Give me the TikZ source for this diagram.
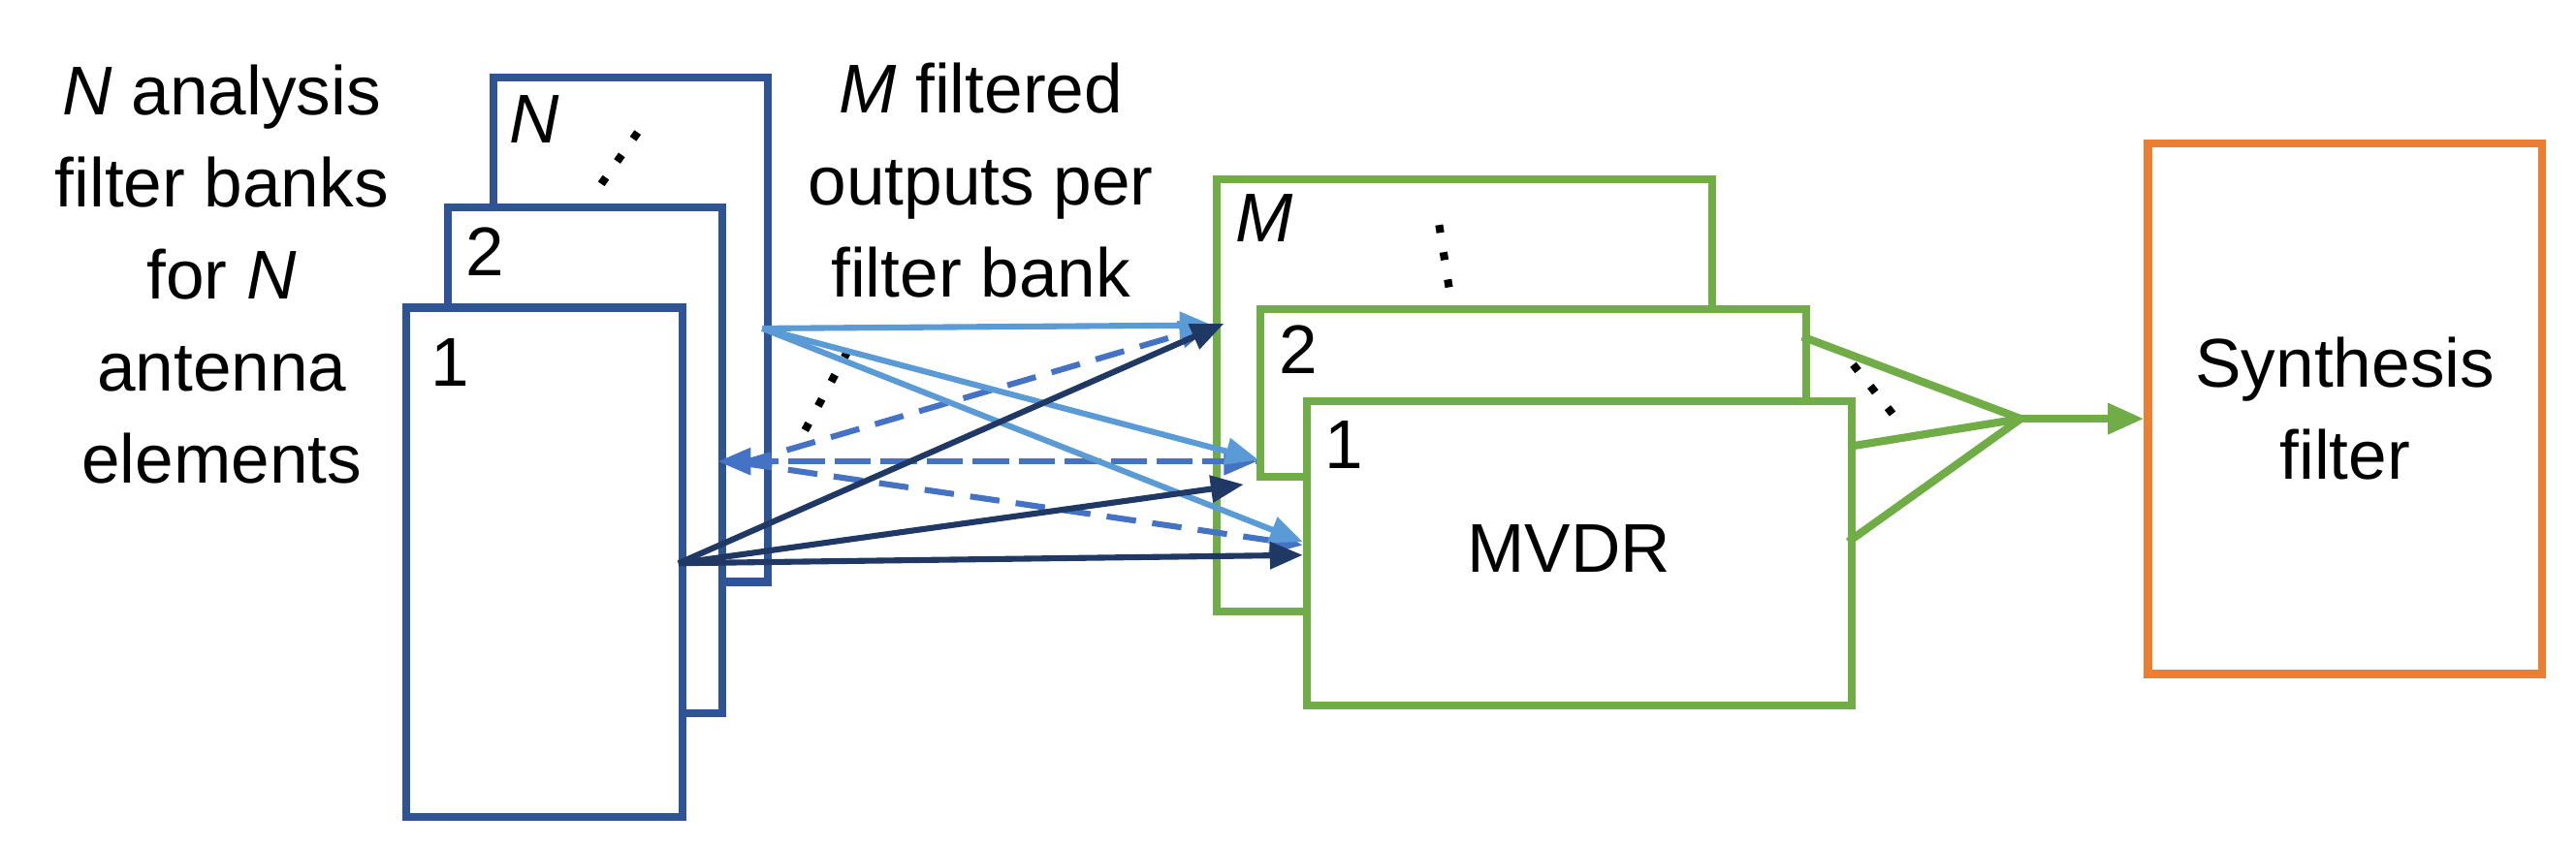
\documentclass[tikz,border=0pt]{standalone}
\usepackage{fontspec}
\setmainfont{Liberation Sans}
\usetikzlibrary{arrows.meta}
\definecolor{bb}{HTML}{2F5496}
\definecolor{lb}{HTML}{5B9BD5}
\definecolor{mb}{HTML}{4472C4}
\definecolor{db}{HTML}{1F3864}
\definecolor{gg}{HTML}{70AD47}
\definecolor{oo}{HTML}{ED7D31}
\begin{document}
\begin{tikzpicture}[x=0.5pt,y=-0.5pt,
  box/.style={draw=#1,line width=2.4pt,fill=white,anchor=north west,inner sep=0pt},
  lab/.style={font=\fontsize{21}{25}\selectfont,anchor=north west,inner sep=0pt},
  txt/.style={font=\fontsize{21}{28}\selectfont,align=center},
  ar/.style={line width=1.8pt,-{Triangle[length=10pt,width=8pt]}},
  dots/.style={line width=2.4pt,dash pattern=on 2.4pt off 6pt}]
\useasboundingbox (0,0) rectangle (1568,515);
\node[txt] (t1) at (135,167) {\textit{N} analysis\\filter banks\\for \textit{N}\\antenna\\elements};
\node[txt] (t2) at (597,110) {\textit{M} filtered\\outputs per\\filter bank};
% blue boxes
\node[box=bb,minimum width=167pt*0.5,minimum height=307pt*0.5] (bN) at (298,45) {};
\node[lab] at (310,58) {\textit{N}};
\draw[dots] (366,112) -- (390,78);
\node[box=bb,minimum width=167pt*0.5,minimum height=308pt*0.5] (b2) at (270,124) {};
\node[lab] at (283,138) {2};
\node[box=bb,minimum width=168pt*0.5,minimum height=310pt*0.5] (b1) at (245,185) {};
\node[lab] at (262,206) {1};
% green boxes
\node[box=gg,minimum width=302pt*0.5,minimum height=263pt*0.5] (gM) at (738,107) {};
\node[lab] at (752,118) {\textit{M}};
\draw[dots] (876,137) -- (882,175);
\node[box=gg,minimum width=332pt*0.5,minimum height=102pt*0.5] (g2) at (765,186) {};
\node[lab] at (778,198) {2};
\node[box=gg,minimum width=332pt*0.5,minimum height=185pt*0.5] (g1) at (793,242) {};
\node[lab] at (806,256) {1};
\node[font=\fontsize{21}{25}\selectfont] (mv) at (955,334) {MVDR};
% orange
\node[box=oo,minimum width=240pt*0.5,minimum height=323pt*0.5] (syn) at (1305,85) {};
\node[txt] at (syn.center) {Synthesis\\filter};
% coordinates
\coordinate (sL) at (464,200);
\coordinate (sD) at (413,343);
\coordinate (sM) at (437,281);
\coordinate (j) at (1230,255);
% dashed
\draw[mb,line width=1.8pt,dash pattern=on 9pt off 5pt,{Triangle[length=10pt,width=8pt]}-] (sM) -- (765,281);
\draw[mb,ar,dash pattern=on 9pt off 5pt] (452,281) -- (765,281);
\draw[mb,ar,dash pattern=on 9pt off 5pt] (452,282) -- (738,198);
\draw[mb,ar,dash pattern=on 9pt off 5pt] (452,282) -- (793,332);
\draw[dots] (490,262) -- (517,212);
% light blue
\draw[lb,ar] (sL) -- (738,198);
\draw[lb,ar] (sL) -- (766,280);
\draw[lb,ar] (sL) -- (793,330);
% dark blue
\draw[db,ar] (sD) -- (745,197);
\draw[db,ar] (sD) -- (757,295);
\draw[db,ar] (sD) -- (793,338);
% convergence
\draw[gg,line width=2.4pt] (1097,205) -- (j);
\draw[gg,line width=2.4pt] (1125,272) -- (j);
\draw[gg,line width=2.4pt] (1125,330) -- (j);
\draw[dots] (1128,222) -- (1152,252);
\draw[gg,line width=2.4pt,-{Triangle[length=11pt,width=9pt]}] (j) -- (syn.west |- j);
\end{tikzpicture}
\end{document}
